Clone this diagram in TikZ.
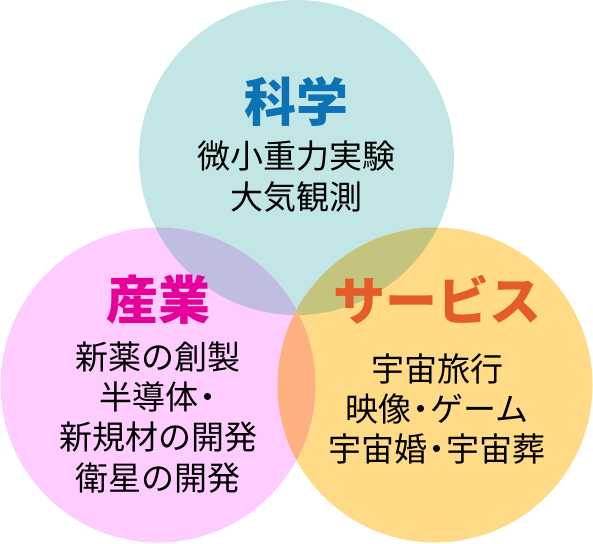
\documentclass[tikz,border=0pt]{standalone}
\usepackage{fontspec}
\setmainfont{Noto Sans CJK JP}
\newcommand{\nkg}{\kern-.22em・\kern-.22em}
\begin{document}
\begin{tikzpicture}[x=1pt,y=-1pt,
  title/.style={anchor=base,inner sep=0pt,font=\fontsize{52}{52}\selectfont\bfseries},
  body/.style={anchor=base,inner sep=0pt,text=black,font=\fontsize{33}{33}\selectfont}]
\definecolor{cteal}{HTML}{C1E6E5}
\definecolor{cpink}{HTML}{FFCCFF}
\definecolor{cyell}{HTML}{FFDB88}
\definecolor{clav}{HTML}{C0BDE3}
\definecolor{coli}{HTML}{C4C47E}
\definecolor{csal}{HTML}{FFB080}
\definecolor{cblue}{HTML}{0B72B5}
\definecolor{cmag}{HTML}{E5009A}
\definecolor{corg}{HTML}{E45C28}
\useasboundingbox (0,0) rectangle (593,543);
\coordinate (ct) at (296.5,157.5);
\coordinate (cl) at (158,385);
\coordinate (cr) at (435,385);
\def\R{157.5}
\fill[cteal] (ct) circle[radius=\R];
\fill[cpink] (cl) circle[radius=\R];
\fill[cyell] (cr) circle[radius=\R];
\begin{scope}
  \clip (ct) circle[radius=\R];
  \fill[clav] (cl) circle[radius=\R];
\end{scope}
\begin{scope}
  \clip (ct) circle[radius=\R];
  \fill[coli] (cr) circle[radius=\R];
\end{scope}
\begin{scope}
  \clip (cl) circle[radius=\R];
  \fill[csal] (cr) circle[radius=\R];
\end{scope}
% science
\node[title,text=cblue] (t1) at (296,121) {科学};
\node[body] (s1) at (296,168.5) {微小重力実験};
\node[body] (s2) at (296,209.5) {大気観測};
% industry
\node[title,text=cmag] (t2) at (158,319) {産業};
\node[body] (i1) at (158,369.5) {新薬の創製};
\node[body] (i2) at (158,409.5) {半導体\nkg};
\node[body] (i3) at (158,449.5) {新規材の開発};
\node[body] (i4) at (158,490.5) {衛星の開発};
% service
\node[title,text=corg] (t3) at (437,320) {サービス};
\node[body] (v1) at (437,381.5) {宇宙旅行};
\node[body] (v2) at (437,421.5) {映像\nkg ゲーム};
\node[body] (v3) at (437,461.5) {宇宙婚\nkg 宇宙葬};
\end{tikzpicture}
\end{document}
